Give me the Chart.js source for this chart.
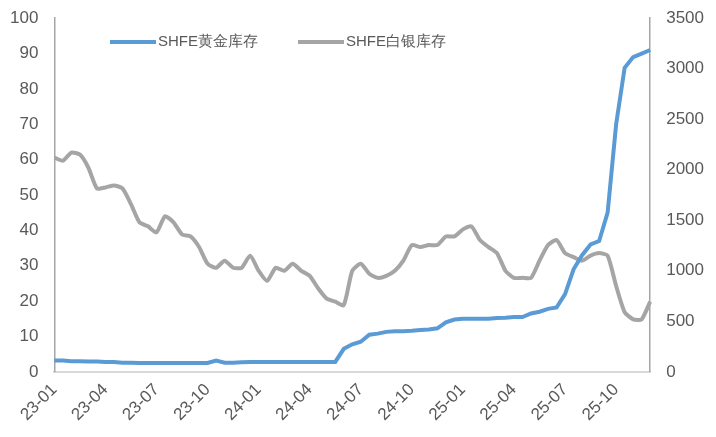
<!DOCTYPE html>
<html>
<head>
<meta charset="utf-8">
<script src="https://cdn.jsdelivr.net/npm/chart.js@4"></script>
<style>
  body { margin: 0; background: #fff; }
  #wrap { width: 716px; height: 437px; }
</style>
</head>
<body>
<div id="wrap"><canvas id="c"></canvas></div>
<script>
// half-month points, 23-01 .. 25-12 start
const months = [];
for (let y = 23; y <= 25; y++) {
  for (let m = 1; m <= 12; m++) {
    const mm = (m < 10 ? '0' : '') + m;
    months.push(y + '-' + mm, y + '-' + mm + 'b');
  }
}
const labels = months.slice(0, 71);

const goldStock = [
  3.2, 3.2, 3.0, 3.0, 2.9, 2.9, 2.8, 2.8, 2.6, 2.6,
  2.5, 2.5, 2.5, 2.5, 2.5, 2.5, 2.5, 2.5, 2.5, 3.2,
  2.6, 2.6, 2.7, 2.8, 2.8, 2.8, 2.8, 2.8, 2.8, 2.8,
  2.8, 2.8, 2.8, 2.8, 6.5, 7.8, 8.5, 10.5, 10.8, 11.3,
  11.5, 11.5, 11.6, 11.8, 12.0, 12.3, 14.0, 14.8, 15.0, 15.0,
  15.0, 15.0, 15.2, 15.3, 15.5, 15.5, 16.5, 17.0, 17.8, 18.2,
  22.0, 29.0, 33.0, 36.0, 37.0, 45.0, 70.0, 86.0, 89.0, 90.0,
  91.0
];
const silverStock = [
  2120, 2090, 2170, 2150, 2020, 1815, 1825, 1845, 1815, 1660,
  1480, 1440, 1380, 1540, 1480, 1360, 1340, 1235, 1070, 1030,
  1100, 1030, 1030, 1150, 1000, 900, 1030, 1000, 1070, 1000,
  950, 825, 725, 695, 660, 1000, 1070, 970, 930, 950,
  1000, 1100, 1255, 1235, 1255, 1255, 1340, 1340, 1410, 1440,
  1305, 1235, 1175, 1000, 930, 930, 930, 1100, 1255, 1305,
  1175, 1135, 1100, 1150, 1175, 1150, 850, 590, 520, 520,
  695
];

const tickColor = '#595959';
const font = { family: 'Liberation Sans, Arial', size: 17 };

// legend drawn inside the plot area, like the original
const innerLegend = {
  id: 'innerLegend',
  afterDraw(chart) {
    const ctx = chart.ctx;
    ctx.save();
    ctx.font = '15px "Liberation Sans", Arial';
    ctx.fillStyle = tickColor;
    ctx.textBaseline = 'middle';
    let x = 110;
    const y = 42;
    chart.data.datasets.forEach(ds => {
      ctx.strokeStyle = ds.borderColor;
      ctx.lineWidth = 4;
      ctx.beginPath();
      ctx.moveTo(x, y);
      ctx.lineTo(x + 46, y);
      ctx.stroke();
      ctx.fillText(ds.label, x + 48, y);
      x += 48 + ctx.measureText(ds.label).width + 40;
    });
    ctx.restore();
  }
};

new Chart(document.getElementById('c'), {
  type: 'line',
  data: {
    labels: labels,
    datasets: [
      { label: 'SHFE黄金库存', data: goldStock, yAxisID: 'y', borderColor: '#5B9BD5',
        borderWidth: 4, pointRadius: 0, tension: 0 },
      { label: 'SHFE白银库存', data: silverStock, yAxisID: 'y1', borderColor: '#A5A5A5',
        borderWidth: 4, pointRadius: 0, tension: 0.2 }
    ]
  },
  options: {
    responsive: true,
    maintainAspectRatio: false,
    animation: false,
    layout: { padding: { left: 2, right: 4, top: 12, bottom: 4 } },
    plugins: { legend: { display: false }, tooltip: { enabled: false } },
    scales: {
      x: {
        grid: { display: false, drawTicks: false },
        border: { color: '#d9d9d9', width: 2 },
        ticks: {
          color: tickColor, font: font, maxRotation: 45, minRotation: 45,
          autoSkip: false, padding: 8,
          callback: (v, i) => (i % 6 === 0 ? labels[i] : null)
        }
      },
      y: {
        position: 'left', min: 0, max: 100,
        grid: { display: false },
        border: { color: '#a6a6a6', width: 1.5 },
        ticks: { color: tickColor, font: font, stepSize: 10, padding: 8 }
      },
      y1: {
        position: 'right', min: 0, max: 3500,
        grid: { display: false },
        border: { color: '#a6a6a6', width: 1.5 },
        ticks: { color: tickColor, font: font, stepSize: 500, padding: 8,
          callback: v => String(v) }
      }
    }
  },
  plugins: [innerLegend]
});
</script>
</body>
</html>
